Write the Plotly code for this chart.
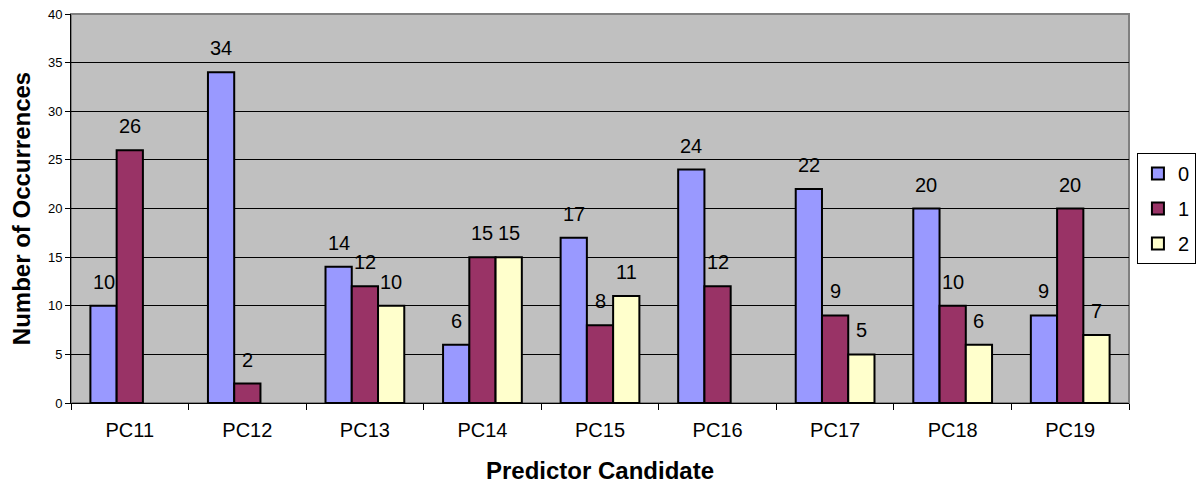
import plotly.graph_objects as go

categories = ["PC11", "PC12", "PC13", "PC14", "PC15", "PC16", "PC17", "PC18", "PC19"]
series_names = ["0", "1", "2"]
values_0 = [10, 34, 14, 6, 17, 24, 22, 20, 9]
values_1 = [26, 2, 12, 15, 8, 12, 9, 10, 20]
values_2 = [None, None, 10, 15, 11, None, 5, 6, 7]
colors = ["#9999FF", "#993366", "#FFFFCC"]

font = "Liberation Sans, Arial, sans-serif"
bargap = 0.33
all_values = [values_0, values_1, values_2]

fig = go.Figure()
for name, vals, col in zip(series_names, all_values, colors):
    fig.add_trace(go.Bar(
        x=categories, y=vals, name=name, legendgroup=name,
        marker=dict(color=col, line=dict(color="black", width=2)),
        cliponaxis=False,
    ))

# data labels, a bit above each bar like in Excel
w = (1 - bargap) / len(all_values)
for i, vals in enumerate(all_values):
    for j, v in enumerate(vals):
        if v is None:
            continue
        fig.add_annotation(
            x=j + (i - 1) * w, y=v, xref="x", yref="y",
            text=str(v), showarrow=False, yanchor="bottom", yshift=11,
            font=dict(size=20, color="black", family=font),
        )

fig.update_layout(
    width=1196, height=479,
    margin=dict(l=63, r=75, t=6, b=84, autoexpand=False),
    paper_bgcolor="white",
    plot_bgcolor="#C0C0C0",
    barmode="group",
    bargap=bargap,
    bargroupgap=0,
    font=dict(family=font, color="black"),
    legend=dict(
        x=1.0075, y=0.5, xanchor="left", yanchor="middle",
        bordercolor="black", borderwidth=1, bgcolor="white",
        font=dict(size=20, family=font),
        tracegroupgap=6,
    ),
    xaxis=dict(
        title=dict(text="<b>Predictor Candidate</b>", font=dict(size=24, family=font), standoff=22),
        tickfont=dict(size=20, family=font),
        showline=True, linecolor="black", linewidth=1,
        ticks="outside", ticklen=6, tickcolor="black",
        ticklabelstandoff=9,
        tickson="boundaries",
        showgrid=False,
        automargin=False,
    ),
    yaxis=dict(
        title=dict(text="<b>Number of Occurrences</b>", font=dict(size=24, family=font), standoff=14),
        range=[0, 40], dtick=5,
        tickfont=dict(size=13, family=font),
        ticklabeloverflow="allow",
        showline=True, linecolor="black", linewidth=1,
        ticks="outside", ticklen=5, tickcolor="black",
        showgrid=True, gridcolor="black", gridwidth=1,
        zeroline=False,
        automargin=False,
    ),
    shapes=[dict(type="rect", xref="paper", yref="paper", x0=0, x1=1, y0=0, y1=1,
                 line=dict(color="#808080", width=2), layer="below")],
)

fig.write_html("out.html")
